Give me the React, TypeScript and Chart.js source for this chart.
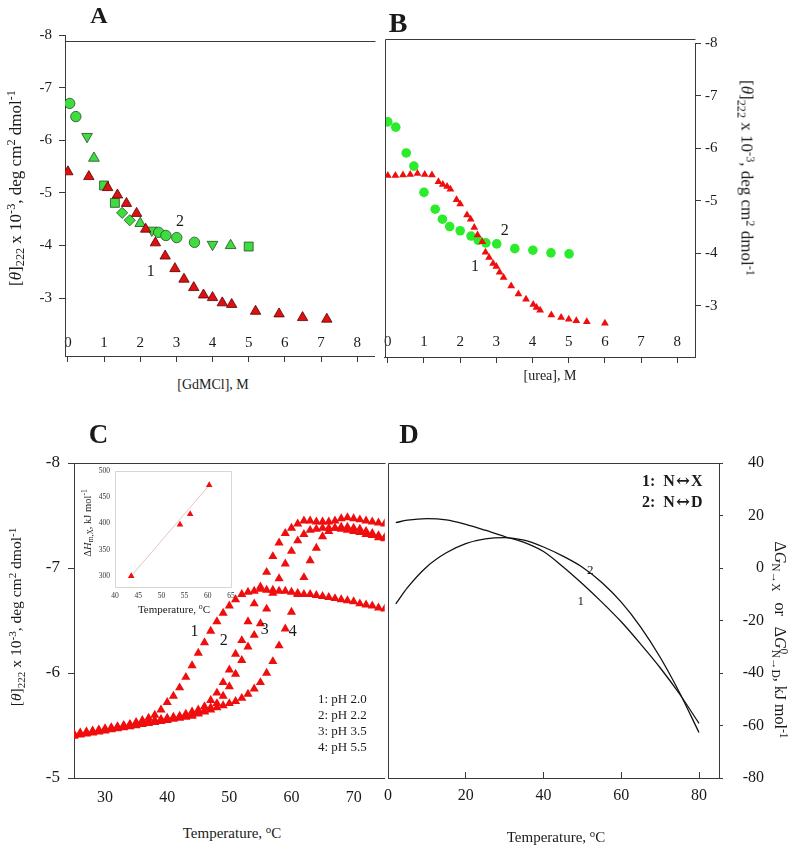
import React, { useEffect, useRef } from 'react';
import { Chart, registerables } from 'chart.js';
Chart.register(...registerables);

const SERIF = '"Liberation Serif", "Times New Roman", serif';
const AXIS = '#3a3a3a';
const INK = '#1a1a1a';
const RED_A = '#dd1111';
const RED = '#f00d0d';
const GREEN_A = '#3fdc3f';
const GREEN_B = '#2aec2a';

// ---------- Panel A : GdmCl ----------
const gdmXTicks = [0, 1, 2, 3, 4, 5, 6, 7, 8];
const thetaTicksAB = [-8, -7, -6, -5, -4, -3];
const gdmRedX = [0, 0.58, 1.1, 1.37, 1.62, 1.9, 2.15, 2.42, 2.69, 2.96, 3.21, 3.48, 3.75, 4.0, 4.27, 4.53, 5.19, 5.84, 6.49, 7.16];
const gdmRedY = [-5.4, -5.31, -5.1, -4.96, -4.8, -4.61, -4.31, -4.05, -3.8, -3.56, -3.36, -3.2, -3.06, -3.01, -2.91, -2.88, -2.75, -2.7, -2.63, -2.6];
const gdmGreenCircleX = [0.05, 0.22, 2.51, 2.71, 3.01, 3.5];
const gdmGreenCircleY = [-6.7, -6.45, -4.25, -4.19, -4.15, -4.06];
const gdmGreenDownX = [0.53, 2.32, 4.0];
const gdmGreenDownY = [-6.07, -4.29, -4.02];
const gdmGreenUpX = [0.72, 2.0, 4.5];
const gdmGreenUpY = [-5.66, -4.42, -4.0];
const gdmGreenSquareX = [1.0, 1.3, 5.0];
const gdmGreenSquareY = [-5.14, -4.81, -3.98];
const gdmGreenDiamondX = [1.5, 1.71];
const gdmGreenDiamondY = [-4.62, -4.48];
const notesA = [
  { x: 3.1, y: -4.45, text: '2', size: 16 },
  { x: 2.29, y: -3.5, text: '1', size: 16 },
];

// ---------- Panel B : urea ----------
const ureaXTicks = [0, 1, 2, 3, 4, 5, 6, 7, 8];
const ureaRedX = [0, 0.21, 0.42, 0.62, 0.82, 1.02, 1.22, 1.4, 1.52, 1.64, 1.73, 1.9, 2.0, 2.19, 2.29, 2.39, 2.48, 2.61, 2.7, 2.8, 2.91, 3.0, 3.09, 3.2, 3.41, 3.61, 3.82, 4.02, 4.11, 4.21, 4.52, 4.79, 5.0, 5.21, 5.5, 6.0];
const ureaRedY = [-5.48, -5.48, -5.49, -5.5, -5.52, -5.5, -5.49, -5.36, -5.31, -5.27, -5.22, -5.02, -4.94, -4.73, -4.65, -4.49, -4.35, -4.22, -4.02, -3.92, -3.81, -3.75, -3.64, -3.54, -3.38, -3.23, -3.13, -3.03, -2.97, -2.92, -2.83, -2.78, -2.75, -2.72, -2.7, -2.67];
const ureaGreenX = [0, 0.22, 0.51, 0.72, 1.0, 1.31, 1.51, 1.71, 2.0, 2.3, 2.5, 2.71, 3.01, 3.51, 4.01, 4.51, 5.01];
const ureaGreenY = [-6.5, -6.4, -5.91, -5.66, -5.16, -4.84, -4.65, -4.51, -4.43, -4.33, -4.25, -4.2, -4.18, -4.09, -4.06, -4.01, -3.99];
const notesB = [
  { x: 3.23, y: -4.43, text: '2', size: 16 },
  { x: 2.41, y: -3.75, text: '1', size: 16 },
];

// ---------- Panel C : thermal melting ----------
const tempTicksC = [30, 40, 50, 60, 70];
const thetaTicksC = [-8, -7, -6, -5];
const tempsC = [25, 26, 27, 28, 29, 30, 31, 32, 33, 34, 35, 36, 37, 38, 39, 40, 41, 42, 43, 44, 45, 46, 47, 48, 49, 50, 51, 52, 53, 54, 55, 56, 57, 58, 59, 60, 61, 62, 63, 64, 65, 66, 67, 68, 69, 70, 71, 72, 73, 74, 75];
const pH20 = [-5.41, -5.42, -5.43, -5.44, -5.45, -5.46, -5.47, -5.48, -5.5, -5.51, -5.53, -5.55, -5.57, -5.6, -5.65, -5.72, -5.78, -5.86, -5.96, -6.07, -6.19, -6.29, -6.4, -6.49, -6.57, -6.64, -6.7, -6.75, -6.77, -6.78, -6.8, -6.79, -6.79, -6.78, -6.78, -6.77, -6.76, -6.75, -6.75, -6.74, -6.73, -6.72, -6.71, -6.7, -6.69, -6.68, -6.66, -6.65, -6.64, -6.62, -6.61];
const pH22 = [-5.42, -5.43, -5.44, -5.45, -5.46, -5.47, -5.48, -5.49, -5.5, -5.51, -5.52, -5.53, -5.54, -5.55, -5.56, -5.57, -5.58, -5.59, -5.61, -5.63, -5.65, -5.68, -5.74, -5.81, -5.91, -6.03, -6.18, -6.31, -6.49, -6.66, -6.82, -6.96, -7.11, -7.24, -7.33, -7.38, -7.42, -7.45, -7.45, -7.44, -7.44, -7.44, -7.45, -7.47, -7.48, -7.47, -7.46, -7.45, -7.44, -7.43, -7.42];
const pH35 = [-5.41, -5.42, -5.43, -5.44, -5.45, -5.46, -5.47, -5.48, -5.49, -5.5, -5.51, -5.52, -5.53, -5.54, -5.55, -5.56, -5.57, -5.58, -5.59, -5.6, -5.62, -5.64, -5.67, -5.71, -5.78, -5.87, -5.99, -6.12, -6.25, -6.36, -6.47, -6.61, -6.76, -6.9, -7.04, -7.16, -7.26, -7.32, -7.36, -7.37, -7.38, -7.38, -7.38, -7.37, -7.36, -7.35, -7.34, -7.32, -7.31, -7.29, -7.28];
const pH55 = [-5.4, -5.41, -5.42, -5.43, -5.44, -5.45, -5.46, -5.47, -5.48, -5.49, -5.5, -5.51, -5.52, -5.53, -5.54, -5.55, -5.56, -5.57, -5.58, -5.59, -5.61, -5.63, -5.65, -5.67, -5.69, -5.71, -5.73, -5.76, -5.8, -5.85, -5.91, -6.0, -6.11, -6.26, -6.42, -6.58, -6.75, -6.91, -7.07, -7.19, -7.3, -7.35, -7.38, -7.39, -7.39, -7.38, -7.37, -7.35, -7.33, -7.31, -7.29];
const notesC = [
  { x: 44.4, y: -6.39, text: '1', size: 16 },
  { x: 49.1, y: -6.31, text: '2', size: 16 },
  { x: 55.7, y: -6.41, text: '3', size: 16 },
  { x: 60.2, y: -6.39, text: '4', size: 16 },
];

// ---------- Inset : ΔHm,X vs Tm ----------
const insetTTicks = [40, 45, 50, 55, 60, 65];
const insetHTicks = [300, 350, 400, 450, 500];
const insetT = [43.5, 54.0, 56.2, 60.3];
const insetH = [300, 398, 418, 473];
const insetFitT = [43.5, 60.3];
const insetFitH = [300, 473];

// ---------- Panel D : stability curves ----------
const tempTicksD = [0, 20, 40, 60, 80];
const dGTicks = [-80, -60, -40, -20, 0, 20, 40];
const tempsD = [2, 5, 10, 15, 20, 25, 30, 35, 40, 45, 50, 55, 60, 65, 70, 75, 80];
const dG_NX = [17.3, 18.2, 18.8, 18.3, 16.6, 14.4, 12.0, 9.8, 6.3, 0.5, -6.0, -13.0, -20.5, -29.0, -38.0, -48.0, -59.2];
const dG_ND = [-13.7, -7.5, 0.5, 5.8, 9.3, 11.1, 11.6, 10.6, 8.0, 4.5, 0.3, -5.5, -13.0, -22.5, -34.0, -47.5, -62.7];
const notesD = [
  { x: 52.0, y: -1.0, text: '2', size: 13 },
  { x: 49.6, y: -12.8, text: '1', size: 13 },
];

// ---------- helpers ----------
const pts = (xs: number[], ys: number[]) => xs.map((x, i) => ({ x, y: ys[i] }));
const fixTicks = (vals: number[]) => (s: any) => {
  s.ticks = vals.map((v) => ({ value: v }));
};
const fixW = (w: number) => (s: any) => {
  s.width = w;
};
const fixH = (h: number) => (s: any) => {
  s.height = h;
};
const px = (v: number) => Math.round(v) + 0.5;

type Area = { left: number; right: number; top: number; bottom: number };
function framePlugin(lines: ((a: Area) => number[])[], color = AXIS, width = 1) {
  return {
    id: 'frameLines',
    afterDraw(chart: any) {
      const { ctx, chartArea } = chart;
      ctx.save();
      ctx.strokeStyle = color;
      ctx.lineWidth = width;
      for (const f of lines) {
        const [x1, y1, x2, y2] = f(chartArea);
        ctx.beginPath();
        ctx.moveTo(px(x1), px(y1));
        ctx.lineTo(px(x2), px(y2));
        ctx.stroke();
      }
      ctx.restore();
    },
  };
}

type Note = { x: number; y: number; text: string; size: number };
function notesPlugin(notes: Note[]) {
  return {
    id: 'notes',
    afterDatasetsDraw(chart: any) {
      const { ctx, scales } = chart;
      ctx.save();
      ctx.fillStyle = INK;
      ctx.textAlign = 'center';
      ctx.textBaseline = 'middle';
      for (const n of notes) {
        ctx.font = `${n.size}px ${SERIF}`;
        ctx.fillText(n.text, scales.x.getPixelForValue(n.x), scales.y.getPixelForValue(n.y));
      }
      ctx.restore();
    },
  };
}

const baseOptions = (padding: any) => ({
  responsive: false,
  animation: false,
  events: [],
  layout: { padding },
  plugins: { legend: { display: false }, tooltip: { enabled: false } },
});

const tickFont = (size: number) => ({ family: SERIF, size });

// ---------- chart builders ----------
const buildA = () => ({
  type: 'scatter',
  data: {
    datasets: [
      { data: pts(gdmRedX, gdmRedY), pointStyle: 'triangle', pointRadius: 6, backgroundColor: RED_A, borderColor: '#5a0000', borderWidth: 0.8 },
      { data: pts(gdmGreenCircleX, gdmGreenCircleY), pointStyle: 'circle', pointRadius: 5.2, backgroundColor: GREEN_A, borderColor: '#244a24', borderWidth: 0.8 },
      { data: pts(gdmGreenDownX, gdmGreenDownY), pointStyle: 'triangle', pointRotation: 180, pointRadius: 6.2, backgroundColor: GREEN_A, borderColor: '#244a24', borderWidth: 0.8 },
      { data: pts(gdmGreenUpX, gdmGreenUpY), pointStyle: 'triangle', pointRadius: 6.2, backgroundColor: GREEN_A, borderColor: '#244a24', borderWidth: 0.8 },
      { data: pts(gdmGreenSquareX, gdmGreenSquareY), pointStyle: 'rect', pointRadius: 6.3, backgroundColor: GREEN_A, borderColor: '#244a24', borderWidth: 0.8 },
      { data: pts(gdmGreenDiamondX, gdmGreenDiamondY), pointStyle: 'rectRot', pointRadius: 5.6, backgroundColor: GREEN_A, borderColor: '#244a24', borderWidth: 0.8 },
    ],
  },
  options: {
    ...baseOptions({ top: 18, right: 2, left: 0, bottom: 0 }),
    scales: {
      x: {
        type: 'linear', min: -0.08, max: 8.49,
        afterBuildTicks: fixTicks(gdmXTicks), afterFit: fixH(20),
        border: { display: true, color: AXIS, width: 1 },
        grid: { drawOnChartArea: false, tickLength: 6, color: AXIS },
        ticks: { mirror: true, padding: 4, autoSkip: false, maxRotation: 0, color: INK, font: tickFont(15) },
      },
      y: {
        type: 'linear', reverse: true, min: -8, max: -1.9,
        afterBuildTicks: fixTicks(thetaTicksAB), afterFit: fixW(45),
        border: { display: true, color: AXIS, width: 1 },
        grid: { drawOnChartArea: false, tickLength: 6, color: AXIS },
        ticks: { padding: 7, color: INK, font: tickFont(15) },
      },
    },
  },
  plugins: [framePlugin([(a) => [a.left, a.top + 6, a.right, a.top + 6]]), notesPlugin(notesA)],
});

const buildB = () => ({
  type: 'scatter',
  data: {
    datasets: [
      { data: pts(ureaRedX, ureaRedY), pointStyle: 'triangle', pointRadius: 4.5, backgroundColor: RED, borderWidth: 0 },
      { data: pts(ureaGreenX, ureaGreenY), pointStyle: 'circle', pointRadius: 4.8, backgroundColor: GREEN_B, borderWidth: 0 },
    ],
  },
  options: {
    ...baseOptions({ top: 15, right: 0, left: 2, bottom: 0 }),
    scales: {
      x: {
        type: 'linear', min: -0.08, max: 8.49,
        afterBuildTicks: fixTicks(ureaXTicks), afterFit: fixH(20),
        border: { display: true, color: AXIS, width: 1 },
        grid: { drawOnChartArea: false, tickLength: 6, color: AXIS },
        ticks: { mirror: true, padding: 6, autoSkip: false, maxRotation: 0, color: INK, font: tickFont(15) },
      },
      y: {
        type: 'linear', position: 'right', reverse: true, min: -8, max: -2.03,
        afterBuildTicks: fixTicks(thetaTicksAB), afterFit: fixW(45),
        border: { display: true, color: AXIS, width: 1 },
        grid: { drawOnChartArea: false, tickLength: 6, color: AXIS },
        ticks: { padding: 4, color: INK, font: tickFont(15) },
      },
    },
  },
  plugins: [
    framePlugin([
      (a) => [a.left, a.top - 4, a.right, a.top - 4],
      (a) => [a.left, a.top - 4, a.left, a.bottom],
    ]),
    notesPlugin(notesB),
  ],
});

const buildC = () => ({
  type: 'scatter',
  data: {
    datasets: [pH20, pH22, pH35, pH55].map((s) => ({
      data: pts(tempsC, s), pointStyle: 'triangle', pointRadius: 5.3, backgroundColor: RED, borderWidth: 0,
    })),
  },
  options: {
    ...baseOptions({ top: 20, right: 2, left: 0, bottom: 0 }),
    scales: {
      x: {
        type: 'linear', min: 25, max: 75,
        afterBuildTicks: fixTicks(tempTicksC), afterFit: fixH(40),
        border: { display: true, color: AXIS, width: 1 },
        grid: { drawOnChartArea: false, drawTicks: false, color: AXIS },
        ticks: { padding: 10, autoSkip: false, maxRotation: 0, color: INK, font: tickFont(16) },
      },
      y: {
        type: 'linear', reverse: true, min: -8, max: -5,
        afterBuildTicks: fixTicks(thetaTicksC), afterFit: fixW(50),
        border: { display: true, color: AXIS, width: 1 },
        grid: { drawOnChartArea: false, tickLength: 6, color: AXIS },
        ticks: { padding: 8, color: INK, font: tickFont(17) },
      },
    },
  },
  plugins: [framePlugin([(a) => [a.left, a.top, a.right, a.top]]), notesPlugin(notesC)],
});

const buildInset = () => ({
  type: 'scatter',
  data: {
    datasets: [
      { data: pts(insetT, insetH), pointStyle: 'triangle', pointRadius: 3.8, backgroundColor: RED, borderWidth: 0 },
      { data: pts(insetFitT, insetFitH), showLine: true, pointRadius: 0, borderColor: '#e8c4c4', borderWidth: 1 },
    ],
  },
  options: {
    ...baseOptions({ top: 10, right: 10, left: 0, bottom: 0 }),
    scales: {
      x: {
        type: 'linear', min: 40, max: 65,
        afterBuildTicks: fixTicks(insetTTicks), afterFit: fixH(16),
        border: { display: false }, grid: { display: false, drawTicks: false },
        ticks: { padding: 5, autoSkip: false, maxRotation: 0, color: '#333', font: tickFont(7.5) },
      },
      y: {
        type: 'linear', min: 279, max: 500,
        afterBuildTicks: fixTicks(insetHTicks), afterFit: fixW(18),
        border: { display: false }, grid: { display: false, drawTicks: false },
        ticks: { padding: 5, color: '#333', font: tickFont(7.5) },
      },
    },
  },
  plugins: [
    framePlugin(
      [
        (a) => [a.left, a.top, a.right, a.top],
        (a) => [a.left, a.bottom, a.right, a.bottom],
        (a) => [a.left, a.top, a.left, a.bottom],
        (a) => [a.right, a.top, a.right, a.bottom],
      ],
      '#d6d6d6',
      1
    ),
  ],
});

const buildD = () => ({
  type: 'scatter',
  data: {
    datasets: [
      { data: pts(tempsD, dG_NX), showLine: true, pointRadius: 0, borderColor: '#111', borderWidth: 1.3, cubicInterpolationMode: 'monotone' },
      { data: pts(tempsD, dG_ND), showLine: true, pointRadius: 0, borderColor: '#111', borderWidth: 1.3, cubicInterpolationMode: 'monotone' },
    ],
  },
  options: {
    ...baseOptions({ top: 20, right: 0, left: 22, bottom: 0 }),
    scales: {
      x: {
        type: 'linear', min: 0, max: 85.14,
        afterBuildTicks: fixTicks(tempTicksD), afterFit: fixH(40),
        border: { display: true, color: AXIS, width: 1 },
        grid: { drawOnChartArea: false, tickLength: -6, color: AXIS },
        ticks: { padding: 14, autoSkip: false, maxRotation: 0, color: INK, font: tickFont(16) },
      },
      y: {
        type: 'linear', position: 'right', min: -80, max: 40,
        afterBuildTicks: fixTicks(dGTicks), afterFit: fixW(45),
        border: { display: true, color: AXIS, width: 1 },
        grid: { drawOnChartArea: false, tickLength: 4, color: AXIS },
        ticks: { padding: 9, crossAlign: 'far', color: INK, font: tickFont(16) },
      },
    },
  },
  plugins: [
    framePlugin([
      (a) => [a.left, a.top, a.right, a.top],
      (a) => [a.left, a.top, a.left, a.bottom],
    ]),
    notesPlugin(notesD),
  ],
});

// ---------- components ----------
function ChartCanvas({ box, build }: { box: number[]; build: () => any }) {
  const ref = useRef<HTMLCanvasElement | null>(null);
  useEffect(() => {
    const chart = new Chart(ref.current as HTMLCanvasElement, build());
    return () => chart.destroy();
  }, []);
  const [left, top, width, height] = box;
  return (
    <div style={{ position: 'absolute', left, top, width, height }}>
      <canvas ref={ref} width={width} height={height} style={{ width, height, display: 'block' }} />
    </div>
  );
}

function Txt({ x, y, size, rot = 0, bold = false, children }: any) {
  return (
    <div
      style={{
        position: 'absolute',
        left: x,
        top: y,
        transform: `translate(-50%, -50%) rotate(${rot}deg)`,
        fontSize: size,
        fontWeight: bold ? 'bold' : 'normal',
        whiteSpace: 'nowrap',
        lineHeight: 1,
        fontFamily: SERIF,
        color: INK,
      }}
    >
      {children}
    </div>
  );
}

const sub = { fontSize: '0.72em', verticalAlign: '-0.3em', lineHeight: 0 } as const;
const sup = { fontSize: '0.72em', verticalAlign: '0.45em', lineHeight: 0 } as const;
const arrowStyle = { fontFamily: '"DejaVu Serif", "DejaVu Sans", serif', fontSize: '1.05em', margin: '0 1px' } as const;

const ThetaTitle = () => (
  <span>
    [<i>θ</i>]<span style={sub}>222</span> x 10<span style={sup}>-3</span>, deg cm<span style={sup}>2</span> dmol<span style={sup}>-1</span>
  </span>
);

const TempTitle = () => (
  <span>
    Temperature, <span style={sup}>o</span>C
  </span>
);

export default function App() {
  return (
    <div style={{ position: 'absolute', left: 0, top: 0, width: 791, height: 847, background: '#fff', overflow: 'hidden' }}>
      <ChartCanvas box={[20, 17, 362, 359]} build={buildA} />
      <ChartCanvas box={[378, 28, 362, 349]} build={buildB} />
      <ChartCanvas box={[24, 443, 366, 375]} build={buildC} />
      <ChartCanvas box={[366, 443, 398, 375]} build={buildD} />
      <ChartCanvas box={[97, 461, 144, 142]} build={buildInset} />

      <Txt x={99} y={15} size={24} bold>A</Txt>
      <Txt x={398} y={23} size={28} bold>B</Txt>
      <Txt x={98.5} y={434} size={27} bold>C</Txt>
      <Txt x={409} y={434} size={27} bold>D</Txt>

      <Txt x={15} y={188} size={17} rot={-90}><ThetaTitle /></Txt>
      <Txt x={213} y={385} size={14}>[GdMCl], M</Txt>
      <Txt x={550} y={376} size={14}>[urea], M</Txt>
      <Txt x={747} y={178} size={17} rot={90}><ThetaTitle /></Txt>

      <Txt x={16} y={617} size={15.5} rot={-90}><ThetaTitle /></Txt>
      <Txt x={232} y={833} size={15}><TempTitle /></Txt>
      <Txt x={556} y={837} size={15}><TempTitle /></Txt>
      <Txt x={780} y={640} size={16} rot={90}>
        <span>
          Δ<i>G</i><span style={sub}>N→X</span>
          <span style={{ display: 'inline-block', width: '2.2em', textAlign: 'center' }}>or</span>
          Δ<i>G</i><span style={sup}>0</span><span style={{ ...sub, marginLeft: '-0.4em' }}>N→D</span>, kJ mol<span style={sup}>-1</span>
        </span>
      </Txt>

      <Txt x={88} y={523} size={10.5} rot={-90}>
        <span>
          Δ<i>H</i><span style={sub}>m,X</span>, kJ mol<span style={sup}>-1</span>
        </span>
      </Txt>
      <Txt x={174} y={609} size={11}><TempTitle /></Txt>

      <div style={{ position: 'absolute', left: 318, top: 691, fontFamily: SERIF, fontSize: 13, lineHeight: '16px', color: INK, whiteSpace: 'nowrap' }}>
        <div>1: pH 2.0</div>
        <div>2: pH 2.2</div>
        <div>3: pH 3.5</div>
        <div>4: pH 5.5</div>
      </div>

      <div style={{ position: 'absolute', left: 642, top: 470, fontFamily: SERIF, fontSize: 16, fontWeight: 'bold', lineHeight: '20px', color: INK, whiteSpace: 'pre' }}>
        <div>{'1:  N'}<span style={arrowStyle}>↔</span>X</div>
        <div>{'2:  N'}<span style={arrowStyle}>↔</span>D</div>
      </div>
    </div>
  );
}
